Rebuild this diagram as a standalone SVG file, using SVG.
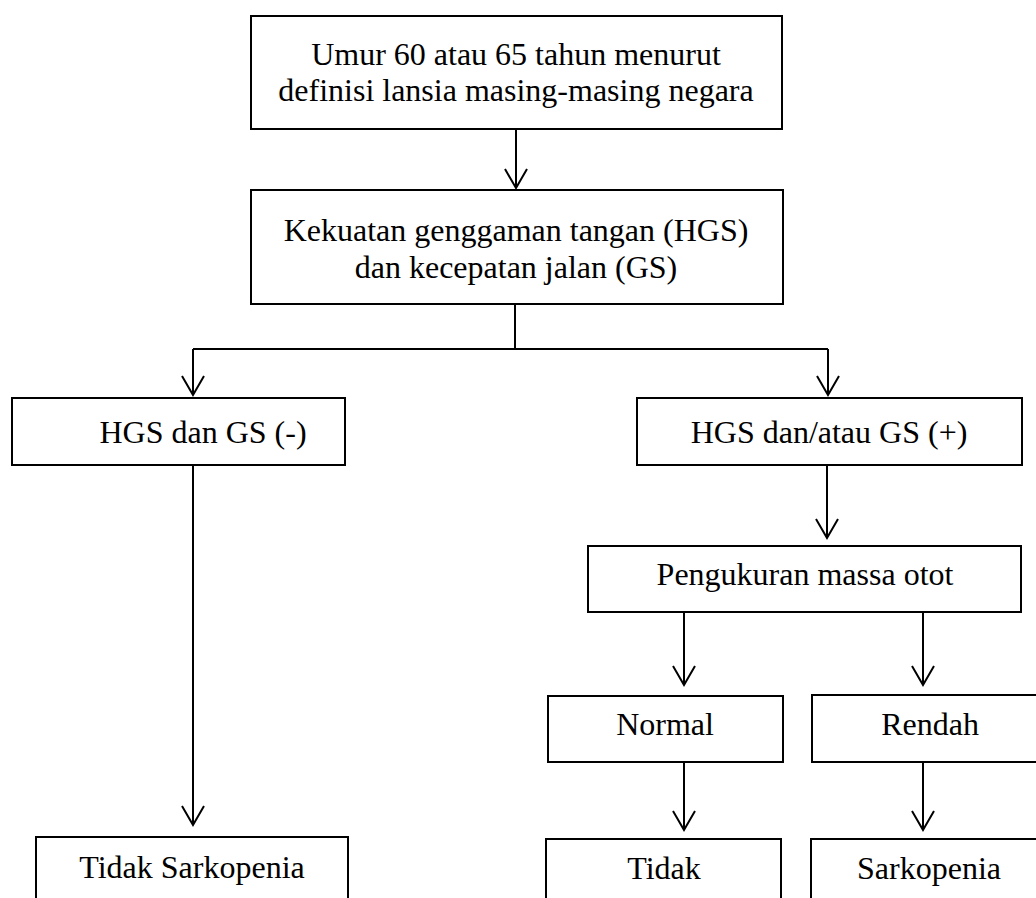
<svg xmlns="http://www.w3.org/2000/svg" width="1036" height="898" viewBox="0 0 1036 898">
  <defs>
    <marker id="arrow" markerUnits="userSpaceOnUse" markerWidth="30" markerHeight="30" refX="0" refY="0" orient="auto" overflow="visible">
      <path d="M-19,-11 L0,0 L-19,11" fill="none" stroke="#000" stroke-width="2" stroke-linejoin="miter"/>
    </marker>
    <style>
      .box { fill: #fff; stroke: #000; stroke-width: 2; }
      .lbl { font-family: "Liberation Serif", "Times New Roman", serif; font-size: 32px; fill: #000; text-anchor: middle; }
      .conn { fill: none; stroke: #000; stroke-width: 2; }
    </style>
  </defs>
  <rect width="1036" height="898" fill="#fff"/>

  <g id="connectors">
    <line class="conn" x1="516" y1="129" x2="516" y2="188" marker-end="url(#arrow)"/>
    <polyline class="conn" points="515,304 515,349"/>
    <polyline class="conn" points="193,349 828,349"/>
    <line class="conn" x1="193" y1="349" x2="193" y2="395" marker-end="url(#arrow)"/>
    <line class="conn" x1="828" y1="349" x2="828" y2="395" marker-end="url(#arrow)"/>
    <line class="conn" x1="193" y1="465" x2="193" y2="825" marker-end="url(#arrow)"/>
    <line class="conn" x1="827" y1="465" x2="827" y2="538" marker-end="url(#arrow)"/>
    <line class="conn" x1="684" y1="612" x2="684" y2="685" marker-end="url(#arrow)"/>
    <line class="conn" x1="923" y1="612" x2="923" y2="685" marker-end="url(#arrow)"/>
    <line class="conn" x1="684" y1="762" x2="684" y2="830" marker-end="url(#arrow)"/>
    <line class="conn" x1="923" y1="762" x2="923" y2="830" marker-end="url(#arrow)"/>
  </g>

  <g id="node-umur">
    <rect class="box" x="251" y="16" width="531" height="113"/>
    <text class="lbl" x="516" y="65">Umur 60 atau 65 tahun menurut</text>
    <text class="lbl" x="516" y="101">definisi lansia masing-masing negara</text>
  </g>

  <g id="node-kekuatan">
    <rect class="box" x="251" y="190" width="532" height="114"/>
    <text class="lbl" x="516" y="241">Kekuatan genggaman tangan (HGS)</text>
    <text class="lbl" x="516" y="278">dan kecepatan jalan (GS)</text>
  </g>

  <g id="node-hgs-neg">
    <rect class="box" x="12" y="398" width="333" height="67"/>
    <text class="lbl" x="203" y="443">HGS dan GS (-)</text>
  </g>

  <g id="node-hgs-pos">
    <rect class="box" x="637" y="398" width="385" height="67"/>
    <text class="lbl" x="829" y="443">HGS dan/atau GS (+)</text>
  </g>

  <g id="node-pengukuran">
    <rect class="box" x="588" y="546" width="433" height="66"/>
    <text class="lbl" x="805" y="585">Pengukuran massa otot</text>
  </g>

  <g id="node-normal">
    <rect class="box" x="548" y="696" width="235" height="66"/>
    <text class="lbl" x="665" y="735">Normal</text>
  </g>

  <g id="node-rendah">
    <rect class="box" x="812" y="695" width="236" height="67"/>
    <text class="lbl" x="930" y="735">Rendah</text>
  </g>

  <g id="node-tidak-sarkopenia">
    <rect class="box" x="36" y="837" width="312" height="80"/>
    <text class="lbl" x="192" y="878">Tidak Sarkopenia</text>
  </g>

  <g id="node-tidak">
    <rect class="box" x="546" y="839" width="235" height="80"/>
    <text class="lbl" x="664" y="879">Tidak</text>
  </g>

  <g id="node-sarkopenia">
    <rect class="box" x="811" y="839" width="236" height="80"/>
    <text class="lbl" x="929" y="879">Sarkopenia</text>
  </g>
</svg>
